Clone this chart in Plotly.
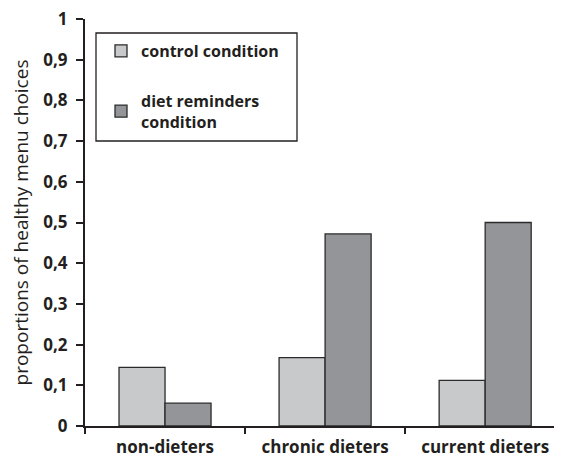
import plotly.graph_objects as go

categories = ["non-dieters", "chronic dieters", "current dieters"]
control_vals = [0.144, 0.168, 0.112]
reminder_vals = [0.056, 0.472, 0.500]
series_names = ["control condition", "diet reminders<br>condition"]
y_tickvals = [0, 0.1, 0.2, 0.3, 0.4, 0.5, 0.6, 0.7, 0.8, 0.9, 1]
y_ticktext = ["0", "0,1", "0,2", "0,3", "0,4", "0,5", "0,6", "0,7", "0,8", "0,9", "1"]
y_title = "proportions of healthy menu choices"

# page body has an 8px margin, so the figure is 8px smaller each way
W, H = 554, 449
ML, MR, MT, MB = 77, 0, 11, 31
PW, PH = W - ML - MR, H - MT - MB

fig = go.Figure()
fig.add_trace(go.Bar(x=categories, y=control_vals, name=series_names[0],
                     marker=dict(color="#c8c9cb", line=dict(color="#2b2b2b", width=1.3)),
                     legendgroup="a"))
fig.add_trace(go.Bar(x=categories, y=reminder_vals, name=series_names[1],
                     marker=dict(color="#939598", line=dict(color="#2b2b2b", width=1.3)),
                     legendgroup="b"))

font_family = "Open Sans, Liberation Sans, sans-serif"

fig.update_layout(
    width=W, height=H,
    margin=dict(l=ML, r=MR, t=MT, b=MB, pad=0, autoexpand=False),
    paper_bgcolor="white", plot_bgcolor="white",
    barmode="group", bargap=0.425, bargroupgap=0,
    font=dict(family=font_family, color="#231f20"),
    showlegend=True,
    legend=dict(
        xref="paper", yref="paper",
        x=(93 - ML) / PW, y=(H - MB - 26) / PH, xanchor="left", yanchor="top",
        bgcolor="rgba(0,0,0,0)", borderwidth=0,
        font=dict(size=16, family=font_family, color="#231f20", weight="bold"),
        tracegroupgap=26, itemwidth=30,
    ),
    xaxis=dict(
        type="category", range=[-0.5, 2.48],
        showline=True, linecolor="#231f20", linewidth=2,
        ticks="outside", tickson="boundaries", ticklen=6, tickwidth=1.5, tickcolor="#231f20",
        tickfont=dict(size=17, family=font_family, color="#231f20", weight="bold"),
        tickangle=0, ticklabelstandoff=5, ticklabeloverflow="allow",
        showgrid=False, zeroline=False, fixedrange=True,
    ),
    yaxis=dict(
        range=[0, 1], tickvals=y_tickvals, ticktext=y_ticktext,
        showline=True, linecolor="#231f20", linewidth=2,
        ticks="outside", ticklen=7, tickwidth=1.5, tickcolor="#231f20",
        tickfont=dict(size=17, family=font_family, color="#231f20", weight="bold"),
        ticklabelstandoff=5, ticklabeloverflow="allow",
        showgrid=False, zeroline=False,
        title=dict(text=y_title, standoff=16,
                   font=dict(size=19, family=font_family, color="#231f20")),
    ),
    shapes=[dict(type="rect", xref="paper", yref="paper",
                 x0=(88 - ML) / PW, x1=(289 - ML) / PW,
                 y0=(H - MB - 133) / PH, y1=(H - MB - 25) / PH,
                 line=dict(color="#231f20", width=1.3), fillcolor="rgba(0,0,0,0)")],
)

fig.write_html("out.html")
